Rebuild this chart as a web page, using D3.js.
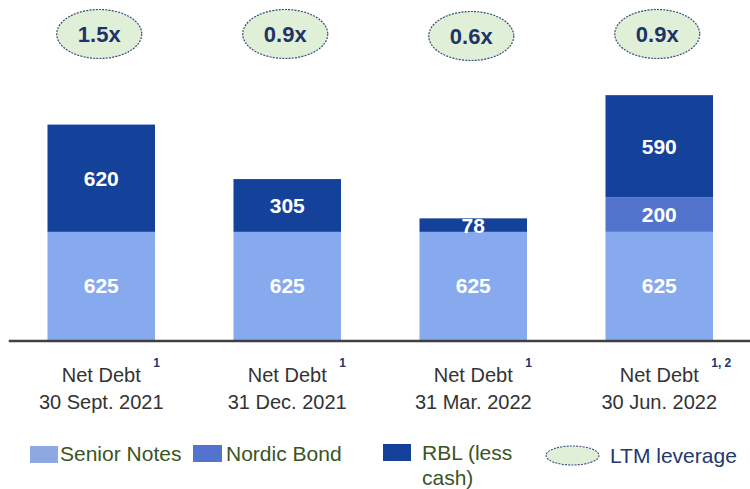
<!DOCTYPE html>
<html>
<head>
<meta charset="utf-8">
<script src="https://cdn.jsdelivr.net/npm/d3@7"></script>
<style>
  html, body { margin: 0; padding: 0; background: #fff; }
  svg { display: block; font-family: "Liberation Sans", Arial, sans-serif; }
</style>
</head>
<body>
<svg id="chart" width="750" height="489"></svg>
<script>
const categories = ["30 Sept. 2021", "31 Dec. 2021", "31 Mar. 2022", "30 Jun. 2022"];
const footnotes = ["1", "1", "1", "1, 2"];
const seniorNotes = [625, 625, 625, 625];
const nordicBond = [0, 0, 0, 200];
const rbl = [620, 305, 78, 590];
const leverage = ["1.5x", "0.9x", "0.6x", "0.9x"];
const seriesNames = ["Senior Notes", "Nordic Bond", "RBL (less cash)"];

const colors = { senior: "#87aaee", nordic: "#5274cc", rbl: "#14419a" };

const svg = d3.select("#chart");

const x = d3.scaleBand().domain(categories).range([8.25, 752.25])
  .paddingInner(0.422).paddingOuter(0.211);
const y = d3.scaleLinear().domain([0, 1965]).range([340, 0]);

const rows = categories.map((c, i) => ({
  cat: c, senior: seniorNotes[i], nordic: nordicBond[i], rbl: rbl[i]
}));
const keys = ["senior", "nordic", "rbl"];
const stacked = d3.stack().keys(keys)(rows);

const g = svg.append("g");
stacked.forEach(layer => {
  g.selectAll(null).data(layer).enter().append("rect")
    .attr("x", d => x(d.data.cat))
    .attr("width", x.bandwidth())
    .attr("y", d => y(d[1]))
    .attr("height", d => y(d[0]) - y(d[1]))
    .attr("fill", colors[layer.key]);
});
stacked.forEach(layer => {
  g.selectAll(null).data(layer.filter(d => d[1] - d[0] > 0)).enter().append("text")
    .attr("x", d => x(d.data.cat) + x.bandwidth() / 2)
    .attr("y", d => (y(d[0]) + y(d[1])) / 2)
    .attr("dy", "0.36em")
    .attr("text-anchor", "middle")
    .attr("fill", "#fff")
    .attr("font-weight", "bold")
    .attr("font-size", "21px")
    .text(d => d[1] - d[0]);
});

// axis
const axis = svg.append("g").attr("transform", "translate(0,340.5)")
  .call(d3.axisBottom(x).tickSize(0).tickSizeOuter(0).tickFormat(""));
axis.select(".domain").attr("stroke", "#404040").attr("stroke-width", 2.5);

// category labels
const lab = svg.append("g");
categories.forEach((c, i) => {
  const cx = x(c) + x.bandwidth() / 2;
  lab.append("text").attr("x", cx).attr("y", 382).attr("text-anchor", "middle")
    .attr("font-size", "20px").attr("fill", "#333").text("Net Debt");
  lab.append("text").attr("x", cx).attr("y", 409).attr("text-anchor", "middle")
    .attr("font-size", "20px").attr("fill", "#333").text(c);
  lab.append("text").attr("x", cx + 52).attr("y", 367).attr("text-anchor", "start")
    .attr("font-size", "12px").attr("font-weight", "bold").attr("fill", "#1f3366").text(footnotes[i]);
});

// leverage ellipses
const ell = svg.append("g");
leverage.forEach((v, i) => {
  const cx = x(categories[i]) + x.bandwidth() / 2 - 2;
  const cy = i === 2 ? 36 : 34;
  ell.append("ellipse").attr("cx", cx).attr("cy", cy).attr("rx", 42.5).attr("ry", 24.5)
    .attr("fill", "#e0f0d8").attr("stroke", "#3a4a78").attr("stroke-width", 1.2)
    .attr("stroke-dasharray", "2,1.2");
  ell.append("text").attr("x", cx).attr("y", cy).attr("dy", "0.36em").attr("text-anchor", "middle")
    .attr("font-size", "22px").attr("font-weight", "bold").attr("fill", "#1f3366").text(v);
});

// legend
const lg = svg.append("g");
const legendColor = "#3a5424";
lg.append("rect").attr("x", 30).attr("y", 446).attr("width", 28).attr("height", 17).attr("fill", "#8ea8e2");
lg.append("text").attr("x", 60).attr("y", 461).attr("font-size", "21px").attr("fill", legendColor).text(seriesNames[0]);
lg.append("rect").attr("x", 193).attr("y", 445).attr("width", 29).attr("height", 17).attr("fill", colors.nordic);
lg.append("text").attr("x", 226).attr("y", 461).attr("font-size", "21px").attr("fill", legendColor).text(seriesNames[1]);
lg.append("rect").attr("x", 383).attr("y", 444).attr("width", 28).attr("height", 17).attr("fill", colors.rbl);
const rt = lg.append("text").attr("x", 422).attr("y", 460).attr("font-size", "21px").attr("fill", legendColor);
rt.append("tspan").attr("x", 422).text("RBL (less");
rt.append("tspan").attr("x", 422).attr("dy", 25).text("cash)");
lg.append("ellipse").attr("cx", 572.5).attr("cy", 455.5).attr("rx", 26.5).attr("ry", 9.5)
  .attr("fill", "#e0f0d8").attr("stroke", "#3a4a78").attr("stroke-width", 1.1).attr("stroke-dasharray", "2,1.2");
lg.append("text").attr("x", 610).attr("y", 463).attr("font-size", "21px").attr("fill", "#22386e").text("LTM leverage");
</script>
</body>
</html>
